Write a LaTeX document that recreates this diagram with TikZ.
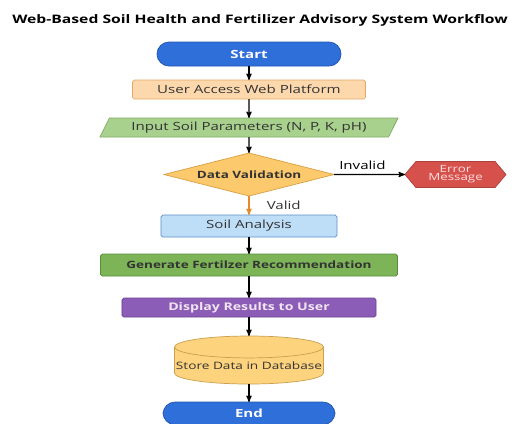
\documentclass[tikz,border=0pt]{standalone}
\usepackage{fontspec}
\setmainfont{Open Sans}[FakeStretch=1.34]
\usetikzlibrary{positioning,arrows,shapes.geometric,shapes.symbols}
\definecolor{termblue}{HTML}{2F6FD9}
\definecolor{termdraw}{HTML}{1F55B0}
\definecolor{accfill}{HTML}{FCD8AC}
\definecolor{accdraw}{HTML}{E3A868}
\definecolor{inpfill}{HTML}{A9D18E}
\definecolor{inpdraw}{HTML}{7FAA66}
\definecolor{decfill}{HTML}{FCC96C}
\definecolor{decdraw}{HTML}{D9A043}
\definecolor{errfill}{HTML}{D6504C}
\definecolor{anafill}{HTML}{BEDDF6}
\definecolor{anadraw}{HTML}{5D8FC9}
\definecolor{recfill}{HTML}{7CB457}
\definecolor{recdraw}{HTML}{5B8D3E}
\definecolor{disfill}{HTML}{8B5DB6}
\definecolor{disdraw}{HTML}{6A4291}
\definecolor{dbfill}{HTML}{FDD37E}
\definecolor{dbdraw}{HTML}{C9A050}
\definecolor{validarr}{HTML}{E38B2C}
\tikzset{
  box/.style={draw, line width=0.6pt, inner sep=0pt, outer sep=0pt, align=center, text=black!80},
  term/.style={box, fill=termblue, draw=termdraw, rounded corners=0.36cm, text=white, font=\fontsize{9.6}{11}\selectfont\bfseries},
  proc/.style={box, rounded corners=1.5pt},
  io/.style={box, trapezium, trapezium left angle=50, trapezium right angle=130, trapezium stretches body},
  decision/.style={box, diamond, aspect=4, font=\fontsize{8.6}{10}\selectfont\bfseries},
  errbox/.style={box, signal, signal to=east and west, signal pointer angle=100, fill=errfill, draw=errfill!80!black, text=white!88!red, font=\fontsize{8.5}{9}\selectfont},
  db/.style={box, cylinder, shape border rotate=90, aspect=0.15, fill=dbfill, draw=dbdraw, font=\fontsize{8.7}{11}\selectfont}
}
\begin{document}
\begin{tikzpicture}[->,>=stealth',line width=1pt,auto,font=\fontsize{9.6}{11}\selectfont]
\useasboundingbox (-7.47,-11.07) rectangle (7.89,1.62);

\node[font=\fontsize{10}{12}\selectfont\bfseries] (title) at (0.33,1.02) {Web-Based Soil Health and Fertilizer Advisory System Workflow};

\node[term, minimum width=5.52cm, minimum height=0.72cm] (start) {Start};
\node[proc, fill=accfill, draw=accdraw, minimum width=6.99cm, minimum height=0.57cm] (access) [below=0.42cm of start] {User Access Web Platform};
\node[io, fill=inpfill, draw=inpdraw, minimum width=8.94cm, minimum height=0.57cm] (input) [below=0.57cm of access] {Input Soil Parameters (N, P, K, pH)};
\node[decision, fill=decfill, draw=decdraw, minimum width=5.1cm, minimum height=1.29cm] (valid) [below=0.48cm of input] {Data Validation};
\node[errbox, minimum width=3.03cm, minimum height=0.78cm] (error) [right=2.13cm of valid] {Error\\[-2pt]Message};
\node[proc, fill=anafill, draw=anadraw, minimum width=5.28cm, minimum height=0.66cm] (analysis) [below=0.57cm of valid] {Soil Analysis};
\node[proc, fill=recfill, draw=recdraw, minimum width=8.91cm, minimum height=0.66cm, font=\fontsize{8.6}{10}\selectfont\bfseries] (recom) [below=0.51cm of analysis] {Generate Fertilzer Recommendation};
\node[proc, fill=disfill, draw=disdraw, minimum width=7.62cm, minimum height=0.57cm, text=white!90!violet, font=\fontsize{9}{11}\selectfont\bfseries] (display) [below=0.66cm of recom] {Display Results to User};
\node[db, minimum width=4.47cm, minimum height=1.44cm] (store) [below=0.57cm of display] {Store Data in Database};
\node[term, minimum width=5.16cm, minimum height=0.68cm] (stop) [below=0.54cm of store] {End};

\draw (start) -- (access);
\draw (access) -- (input);
\draw (input) -- (valid);
\draw (valid) -- node[above, pos=0.4]{Invalid} (error);
\draw[validarr] (valid) -- node[right, xshift=0.4cm, text=black!80]{Valid} (analysis);
\draw (analysis) -- (recom);
\draw (recom) -- (display);
\draw (display) -- (store);
\draw (store) -- (stop);
\end{tikzpicture}
\end{document}
